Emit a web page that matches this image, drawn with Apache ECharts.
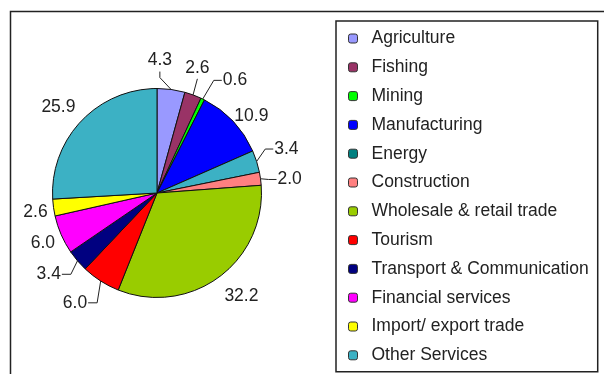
<!DOCTYPE html>
<html>
<head>
<meta charset="utf-8">
<script src="https://cdn.jsdelivr.net/npm/echarts@6/dist/echarts.min.js"></script>
<style>
  html, body { margin: 0; padding: 0; background: #fff; }
  #chart { width: 604px; height: 374px; }
</style>
</head>
<body>
<div id="chart"></div>
<script>
// Sector shares (%)
const sectors = [
  'Agriculture', 'Fishing', 'Mining', 'Manufacturing', 'Energy', 'Construction',
  'Wholesale & retail trade', 'Tourism', 'Transport & Communication',
  'Financial services', 'Import/ export trade', 'Other Services'
];
const shares = [4.3, 2.6, 0.6, 10.9, 3.4, 2.0, 32.2, 6.0, 3.4, 6.0, 2.6, 25.9];
const sliceColors = [
  '#9999ff', '#993366', '#00ff00', '#0000ff', '#3cb1c4', '#ff8080',
  '#99cc00', '#ff0000', '#000080', '#ff00ff', '#ffff00', '#3cb1c4'
];
// Energy's key swatch is drawn in a darker teal than its slice
const legendColors = [
  '#9999ff', '#993366', '#00ff00', '#0000ff', '#008080', '#ff8080',
  '#99cc00', '#ff0000', '#000080', '#ff00ff', '#ffff00', '#3cb1c4'
];
// Leader line per slice: how it reaches its label ('' = no line)
const leaderKind = [
  'below', 'straight', 'left', '', 'left', 'left',
  '', 'right', 'right', '', '', ''
];
// Small nudges of each value label away from its default spot: [dx, dy]
const labelNudge = [
  [-28, -17], [-16, -13], [-1, 2], [-6, -1], [-1, -10], [0, 1],
  [-8, 4], [5, 10], [2, 7], [6, 4], [7, 3], [12, 0]
];
// Default leader lengths per slice: [length, length2]
const leaderLen = [
  [12, 0], [15, 0], [23, 8], [6, 0], [8, 8], [2, 12],
  [18, 0], [14, 8], [10, 8], [10, 0], [10, 0], [20, 0]
];

const FONT = '"Liberation Sans", Arial, sans-serif';

const chart = echarts.init(document.getElementById('chart'), null, { renderer: 'canvas' });

const data = sectors.map((name, i) => ({
  name: name,
  value: shares[i],
  itemStyle: { color: sliceColors[i] },
  labelLine: { show: leaderKind[i] !== '', length: leaderLen[i][0], length2: leaderLen[i][1] }
}));

// Re-route each leader from the slice edge to the nudged label
function layoutLabel(p) {
  const i = p.dataIndex;
  const dx = labelNudge[i][0], dy = labelNudge[i][1];
  const out = { hideOverlap: false, moveOverlap: false, dx: dx, dy: dy };
  const kind = leaderKind[i];
  const pts = p.labelLinePoints;
  if (!kind || !pts || !p.labelRect) return out;
  const r = p.labelRect;
  const x = r.x + dx, y = r.y + dy, w = r.width, h = r.height;
  const start = pts[0];
  const cx = x + w / 2, cy = y + h / 2;
  if (kind === 'below') {
    const by = y + h + 2;
    out.labelLinePoints = [start, [cx, by + 6], [cx, by]];
  } else if (kind === 'straight') {
    const by = y + h + 2;
    out.labelLinePoints = [start, [cx, by], [cx, by]];
  } else if (kind === 'left') {
    const lx = x - 1;
    out.labelLinePoints = [start, [lx - 8, cy], [lx, cy]];
  } else if (kind === 'right') {
    const rx = x + w + 1;
    out.labelLinePoints = [start, [rx + 9, cy], [rx, cy]];
  }
  return out;
}

chart.setOption({
  animation: false,
  backgroundColor: '#ffffff',
  graphic: [
    {
      type: 'polyline',
      shape: { points: [[10.5, 374], [10.5, 11.5], [604, 11.5]] },
      style: { stroke: '#222', lineWidth: 1.5, fill: null }
    }
  ],
  legend: {
    orient: 'vertical',
    left: 336,
    top: 21,
    height: 345,
    data: sectors.map((name, i) => ({
      name: name,
      itemStyle: { color: legendColors[i], borderColor: '#333', borderWidth: 1 }
    })),
    itemWidth: 9,
    itemHeight: 9,
    itemGap: 3.8,
    padding: [5, 9, 4, 12],
    borderColor: '#222',
    borderWidth: 1.5,
    selectedMode: false,
    textStyle: {
      fontFamily: FONT,
      fontSize: 17.5,
      lineHeight: 20,
      color: '#222',
      padding: [0, 0, 5, 9]
    }
  },
  series: [
    {
      type: 'pie',
      center: [157, 193],
      radius: 104.5,
      startAngle: 90,
      clockwise: true,
      avoidLabelOverlap: false,
      itemStyle: { borderColor: '#111', borderWidth: 1 },
      label: {
        show: true,
        position: 'outside',
        formatter: p => p.value.toFixed(1),
        fontFamily: FONT,
        fontSize: 17.5,
        color: '#222',
        distanceToLabelLine: 3
      },
      labelLine: {
        lineStyle: { color: '#222', width: 1 }
      },
      labelLayout: layoutLabel,
      emphasis: { disabled: true },
      data: data
    }
  ]
});
</script>
</body>
</html>
